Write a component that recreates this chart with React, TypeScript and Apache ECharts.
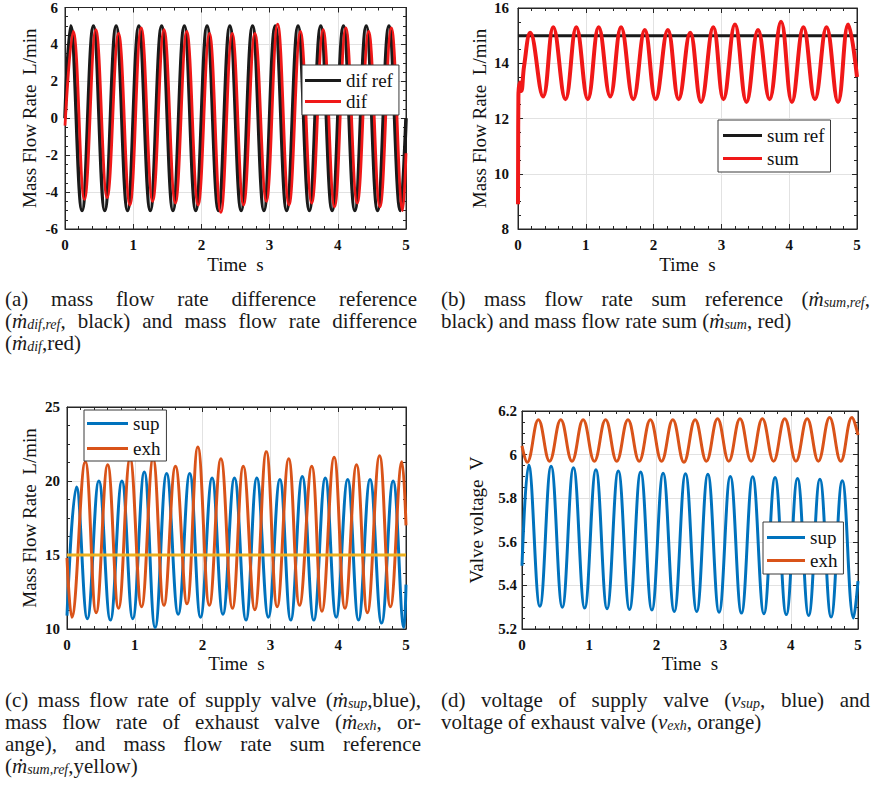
import React, { useEffect, useRef } from 'react';
import * as echarts from 'echarts';

const SERIF = '"Liberation Serif", "Times New Roman", Times, serif';

// ---------------- (a) mass flow rate difference ----------------
const difRefT = [0, 0.083, 0.25, 0.417, 0.583, 0.75, 0.917, 1.083, 1.25, 1.417, 1.583, 1.75, 1.917, 2.083, 2.25, 2.417, 2.583, 2.75, 2.917, 3.083, 3.25, 3.417, 3.583, 3.75, 3.917, 4.083, 4.25, 4.417, 4.583, 4.75, 4.917, 5];
const difRefV = [0, 5, -5, 5, -5, 5, -5, 5, -5, 5, -5, 5, -5, 5, -5, 5, -5, 5, -5, 5, -5, 5, -5, 5, -5, 5, -5, 5, -5, 5, -5, 0];
const difEdgeT = [0, 5];
const difEdgeV = [-0.4, -1.9];
const difPeakT = [0.12, 0.452, 0.785, 1.118, 1.452, 1.785, 2.118, 2.452, 2.785, 3.118, 3.452, 3.785, 4.118, 4.452, 4.785];
const difPeakV = [4.7, 4.8, 4.6, 4.9, 4.8, 4.7, 4.6, 4.6, 4.6, 5.1, 4.7, 4.8, 4.9, 4.7, 4.9];
const difTroughT = [0.285, 0.618, 0.952, 1.285, 1.618, 1.952, 2.285, 2.618, 2.952, 3.285, 3.618, 3.952, 4.285, 4.618, 4.952];
const difTroughV = [-4.4, -4.3, -4.7, -4.5, -4.6, -4.7, -5.1, -4.7, -4.5, -4.7, -4.6, -4.8, -4.6, -4.8, -5.0];

// ---------------- (b) mass flow rate sum ----------------
const sumRefT = [0, 5];
const sumRefV = [15, 15];
const sumStartT = [0, 0.006, 0.03, 0.05, 0.09];
const sumStartV = [8.9, 12.8, 13.3, 13.0, 13.9];
const sumPeakT = [0.18, 0.52, 0.86, 1.19, 1.52, 1.87, 2.21, 2.54, 2.88, 3.2, 3.54, 3.88, 4.21, 4.55, 4.87];
const sumPeakV = [15.1, 15.3, 15.3, 15.3, 15.3, 15.2, 15.2, 15.1, 15.3, 15.4, 15.2, 15.5, 15.3, 15.3, 15.4];
const sumTroughT = [0.37, 0.7, 1.03, 1.36, 1.7, 2.03, 2.37, 2.7, 3.03, 3.37, 3.71, 4.04, 4.38, 4.72];
const sumTroughV = [12.8, 12.7, 12.7, 12.8, 12.7, 12.7, 12.7, 12.6, 12.7, 12.6, 12.7, 12.6, 12.7, 12.6];
const sumEndT = [5];
const sumEndV = [13.5];

// ---------------- (c) valve mass flow rates ----------------
const supEdgeT = [0, 5];
const supEdgeV = [10.9, 13.0];
const supPeakT = [0.14, 0.47, 0.81, 1.14, 1.47, 1.81, 2.14, 2.47, 2.8, 3.14, 3.47, 3.81, 4.14, 4.47, 4.81];
const supPeakV = [19.6, 20.0, 20.0, 20.6, 20.5, 20.5, 20.2, 20.2, 20.2, 20.1, 20.3, 20.2, 20.1, 20.1, 20.0];
const supTroughT = [0.3, 0.64, 0.97, 1.3, 1.64, 1.97, 2.3, 2.64, 2.97, 3.3, 3.64, 3.97, 4.3, 4.64, 4.97];
const supTroughV = [10.7, 10.6, 10.7, 10.1, 11.0, 10.8, 11.0, 10.6, 10.8, 10.6, 10.6, 10.8, 10.6, 10.4, 10.1];
const exhEdgeT = [0, 5];
const exhEdgeV = [14.8, 17.0];
const exhTroughT = [0.07, 0.43, 0.76, 1.1, 1.43, 1.77, 2.1, 2.44, 2.77, 3.1, 3.43, 3.76, 4.1, 4.43, 4.77];
const exhTroughV = [10.8, 11.1, 11.4, 11.5, 11.6, 11.7, 11.6, 11.4, 11.3, 11.5, 11.6, 11.2, 11.4, 11.1, 11.5];
const exhPeakT = [0.27, 0.6, 0.93, 1.27, 1.6, 1.93, 2.27, 2.6, 2.94, 3.27, 3.61, 3.94, 4.27, 4.61, 4.94];
const exhPeakV = [21.3, 21.1, 21.5, 21.5, 21.0, 22.3, 21.5, 21.0, 22.0, 21.5, 21.0, 21.6, 21.1, 21.7, 21.3];
const refYellowT = [0, 5];
const refYellowV = [15, 15];

// ---------------- (d) valve voltages ----------------
const vSupEdgeT = [0, 5];
const vSupEdgeV = [5.49, 5.42];
const vSupPeakT = [0.099, 0.433, 0.766, 1.1, 1.433, 1.766, 2.1, 2.433, 2.766, 3.1, 3.433, 3.766, 4.1, 4.433, 4.766];
const vSupPeakV = [5.952, 5.947, 5.94, 5.93, 5.925, 5.92, 5.915, 5.912, 5.91, 5.9, 5.898, 5.895, 5.89, 5.887, 5.88];
const vSupTroughT = [0.266, 0.6, 0.933, 1.266, 1.6, 1.933, 2.266, 2.6, 2.933, 3.266, 3.6, 3.933, 4.266, 4.6, 4.933];
const vSupTroughV = [5.304, 5.3, 5.296, 5.293, 5.29, 5.287, 5.28, 5.28, 5.277, 5.273, 5.27, 5.266, 5.262, 5.255, 5.25];
const vExhEdgeT = [0, 5];
const vExhEdgeV = [6.04, 6.09];
const vExhTroughT = [0.077, 0.41, 0.744, 1.077, 1.41, 1.744, 2.077, 2.41, 2.744, 3.077, 3.41, 3.744, 4.077, 4.41, 4.744];
const vExhTroughV = [5.965, 5.97, 5.97, 5.97, 5.97, 5.97, 5.97, 5.965, 5.97, 5.97, 5.97, 5.97, 5.97, 5.97, 5.97];
const vExhPeakT = [0.244, 0.577, 0.91, 1.244, 1.577, 1.91, 2.244, 2.577, 2.91, 3.244, 3.577, 3.91, 4.244, 4.577, 4.91];
const vExhPeakV = [6.16, 6.16, 6.16, 6.16, 6.16, 6.16, 6.16, 6.16, 6.165, 6.165, 6.165, 6.165, 6.165, 6.17, 6.17];

// ---------------- axes ----------------
const xTickMin = 0;
const xTickMax = 5;
const xTickStep = 1;
const yMins = [-6, 8, 10, 5.2];
const yMaxs = [6, 16, 25, 6.2];
const ySteps = [2, 2, 5, 0.2];
const xTitle = 'Time  s';
const yTitles = ['Mass Flow Rate  L/min', 'Mass Flow Rate  L/min', 'Mass Flow Rate  L/min', 'Valve voltage  V'];

// ---------------- captions ----------------
const captionA = [
  '(a) mass flow rate difference reference',
  '(ṁ_{dif,ref}, black) and mass flow rate difference',
  '(ṁ_{dif},red)',
];
const captionB = [
  '(b) mass flow rate sum reference (ṁ_{sum,ref},',
  'black) and mass flow rate sum (ṁ_{sum}, red)',
];
const captionC = [
  '(c) mass flow rate of supply valve (ṁ_{sup},blue),',
  'mass flow rate of exhaust valve (ṁ_{exh}, or-',
  'ange), and mass flow rate sum reference',
  '(ṁ_{sum,ref},yellow)',
];
const captionD = [
  '(d) voltage of supply valve (v_{sup}, blue) and',
  'voltage of exhaust valve (v_{exh}, orange)',
];

type Pt = [number, number];
const wave = (...parts: [number[], number[]][]): Pt[] => {
  const pts: Pt[] = [];
  parts.forEach(([ts, vs]) => ts.forEach((t, i) => pts.push([t, vs[i]])));
  return pts.sort((p, q) => p[0] - q[0]);
};

const C_BLACK = '#1a1a1a';
const C_RED = '#f01818';
const C_BLUE = '#0072BD';
const C_ORANGE = '#D95319';
const C_YELLOW = '#EDB120';
const AX = '#262626';

type Frag = { t: string; k: 'n' | 'i' | 's' };
const parseWord = (w: string): Frag[] => {
  const out: Frag[] = [];
  let buf = '';
  let i = 0;
  while (i < w.length) {
    const ch = w[i];
    if ((ch === 'ṁ' || ch === 'v') && w.slice(i + 1, i + 3) === '_{') {
      if (buf) { out.push({ t: buf, k: 'n' }); buf = ''; }
      out.push({ t: ch, k: 'i' });
      const close = w.indexOf('}', i + 3);
      out.push({ t: w.slice(i + 3, close), k: 's' });
      i = close + 1;
    } else {
      buf += ch;
      i++;
    }
  }
  if (buf) out.push({ t: buf, k: 'n' });
  return out;
};

export default function App() {
  const ref = useRef<HTMLDivElement>(null);

  useEffect(() => {
    if (!ref.current) return;
    const chart = echarts.init(ref.current, null, { renderer: 'svg', width: 874, height: 792 });

    const grids = [
      { left: 65, top: 7, width: 341, height: 222 },
      { left: 518, top: 8, width: 339, height: 221 },
      { left: 67, top: 407, width: 339, height: 222 },
      { left: 522, top: 411, width: 336, height: 218 },
    ];
    const yNameGaps = [26, 29, 28, 36];
    const yLabelMargins = [7, 9, 7, 5];
    const xNameGaps = [26, 26, 25, 25];

    const tickStyle = { lineStyle: { color: AX, width: 1 } };
    const xAxes: any[] = [];
    const yAxes: any[] = [];
    grids.forEach((_, i) => {
      xAxes.push({
        type: 'value', gridIndex: i, min: xTickMin, max: xTickMax, interval: xTickStep, position: 'bottom',
        axisLine: { show: true, onZero: false, lineStyle: { color: AX, width: 1 } },
        axisTick: { show: true, inside: true, length: 5, ...tickStyle },
        minorTick: { show: true, splitNumber: 5, length: 3, ...tickStyle },
        axisLabel: { color: '#111', fontFamily: SERIF, fontSize: 15, fontWeight: 'bold', margin: 8 },
        splitLine: { show: true, lineStyle: { color: '#e2e2e2', width: 1 } },
        name: xTitle, nameLocation: 'middle', nameGap: xNameGaps[i],
        nameTextStyle: { color: '#111', fontFamily: SERIF, fontSize: 19 },
      });
    });
    grids.forEach((_, i) => {
      xAxes.push({
        type: 'value', gridIndex: i, min: xTickMin, max: xTickMax, interval: xTickStep, position: 'top',
        axisLine: { show: true, onZero: false, lineStyle: { color: AX, width: 1 } },
        axisTick: { show: true, inside: true, length: 5, ...tickStyle },
        minorTick: { show: true, splitNumber: 5, length: 3, ...tickStyle },
        axisLabel: { show: false }, splitLine: { show: false },
      });
    });
    grids.forEach((_, i) => {
      yAxes.push({
        type: 'value', gridIndex: i, min: yMins[i], max: yMaxs[i], interval: ySteps[i], position: 'left',
        axisLine: { show: true, onZero: false, lineStyle: { color: AX, width: 1 } },
        axisTick: { show: true, inside: true, length: 5, ...tickStyle },
        minorTick: { show: true, splitNumber: 4, length: 3, ...tickStyle },
        axisLabel: {
          color: '#111', fontFamily: SERIF, fontSize: 15, fontWeight: 'bold', margin: yLabelMargins[i],
          formatter: (v: number) => String(+v.toFixed(2)),
        },
        splitLine: { show: true, lineStyle: { color: '#e2e2e2', width: 1 } },
        name: yTitles[i], nameLocation: 'middle', nameRotate: 90, nameGap: yNameGaps[i],
        nameTextStyle: { color: '#111', fontFamily: SERIF, fontSize: 19 },
      });
    });
    grids.forEach((_, i) => {
      yAxes.push({
        type: 'value', gridIndex: i, min: yMins[i], max: yMaxs[i], interval: ySteps[i], position: 'right',
        axisLine: { show: true, onZero: false, lineStyle: { color: AX, width: 1 } },
        axisTick: { show: true, inside: true, length: 5, ...tickStyle },
        minorTick: { show: true, splitNumber: 4, length: 3, ...tickStyle },
        axisLabel: { show: false }, splitLine: { show: false },
      });
    });

    const line = (name: string, data: Pt[], color: string, width: number, idx: number, z = 2) => ({
      type: 'line', name, data, xAxisIndex: idx, yAxisIndex: idx,
      showSymbol: false, symbol: 'none', smooth: 0.42, clip: true, z,
      lineStyle: { color, width }, itemStyle: { color },
      emphasis: { disabled: true }, silent: true,
    });

    const series = [
      line('dif ref', wave([difRefT, difRefV]), C_BLACK, 3.6, 0),
      line('dif', wave([difEdgeT, difEdgeV], [difPeakT, difPeakV], [difTroughT, difTroughV]), C_RED, 2.8, 0, 3),
      line('sum ref', wave([sumRefT, sumRefV]), C_BLACK, 3, 1),
      line('sum', wave([sumStartT, sumStartV], [sumPeakT, sumPeakV], [sumTroughT, sumTroughV], [sumEndT, sumEndV]), C_RED, 4, 1, 3),
      line('sup', wave([supEdgeT, supEdgeV], [supPeakT, supPeakV], [supTroughT, supTroughV]), C_BLUE, 3, 2),
      line('exh', wave([exhEdgeT, exhEdgeV], [exhPeakT, exhPeakV], [exhTroughT, exhTroughV]), C_ORANGE, 3, 2, 3),
      line('ref', wave([refYellowT, refYellowV]), C_YELLOW, 3, 2, 4),
      line('sup', wave([vSupEdgeT, vSupEdgeV], [vSupPeakT, vSupPeakV], [vSupTroughT, vSupTroughV]), C_BLUE, 3, 3),
      line('exh', wave([vExhEdgeT, vExhEdgeV], [vExhPeakT, vExhPeakV], [vExhTroughT, vExhTroughV]), C_ORANGE, 3, 3, 3),
    ];

    const legendBase = {
      orient: 'vertical', icon: 'rect', itemHeight: 3, backgroundColor: '#fff', borderColor: '#3a3a3a', borderWidth: 1,
      borderRadius: 0, selectedMode: false, z: 10,
      textStyle: { fontFamily: SERIF, fontSize: 19, color: '#111', lineHeight: 18 },
    };
    const legends = [
      { data: ['dif ref', 'dif'], left: 302, top: 65, padding: [6, 6, 4, 3], itemGap: 2, itemWidth: 36 },
      { data: ['sum ref', 'sum'], left: 718, top: 120, padding: [6, 6, 4, 5], itemGap: 4, itemWidth: 39 },
      { data: ['sup', 'exh'], left: 84, top: 410, padding: [4, 6, 3, 3], itemGap: 6, itemWidth: 41 },
      { data: ['sup', 'exh'], left: 763, top: 522, padding: [6, 6, 4, 4], itemGap: 4, itemWidth: 38 },
    ].map((l) => ({ ...legendBase, ...l }));

    // captions (justified like the paper); each word is one rich-text element
    const CAP = 21;
    const SUB = 14;
    const LINE_H = 22;
    const ctx = document.createElement('canvas').getContext('2d') as CanvasRenderingContext2D;
    const fontOf = (k: Frag['k']) =>
      k === 'n' ? `${CAP}px ${SERIF}` : k === 'i' ? `italic ${CAP}px ${SERIF}` : `italic ${SUB}px ${SERIF}`;
    const measure = (t: string, k: Frag['k']) => { ctx.font = fontOf(k); return ctx.measureText(t).width; };
    const rich = {
      n: { fontFamily: SERIF, fontSize: CAP, fontStyle: 'normal', lineHeight: CAP, verticalAlign: 'middle', fill: '#1a1a1a', color: '#1a1a1a' },
      i: { fontFamily: SERIF, fontSize: CAP, fontStyle: 'italic', lineHeight: CAP, verticalAlign: 'middle', fill: '#1a1a1a', color: '#1a1a1a' },
      s: { fontFamily: SERIF, fontSize: SUB, fontStyle: 'italic', lineHeight: 4, verticalAlign: 'bottom', fill: '#1a1a1a', color: '#1a1a1a' },
    };

    const blocks = [
      { x: 5, w: 412, y0: 299, lines: captionA, justify: [true, true, false] },
      { x: 441, w: 429, y0: 299, lines: captionB, justify: [true, false] },
      { x: 5, w: 416, y0: 700, lines: captionC, justify: [true, true, true, false] },
      { x: 441, w: 429, y0: 700, lines: captionD, justify: [true, false] },
    ];
    const graphics: any[] = [];
    blocks.forEach((b) => {
      b.lines.forEach((ln, li) => {
        const words = ln.split(' ').map(parseWord);
        const widths = words.map((ws) => ws.reduce((s, f) => s + measure(f.t, f.k), 0));
        const total = widths.reduce((a, c) => a + c, 0);
        const space = measure(' ', 'n');
        let gap = space;
        let scale = 1;
        if (b.justify[li] && words.length > 1) {
          gap = (b.w - total) / (words.length - 1);
          if (gap < space * 0.6) {
            gap = space * 0.6;
            scale = b.w / (total + gap * (words.length - 1));
          }
        }
        const children: any[] = [];
        let x = 0;
        words.forEach((ws, wi) => {
          const text = ws.map((f) => `{${f.k}|${f.t}}`).join('');
          children.push({
            type: 'text', x, y: 0, silent: true,
            style: {
              text, rich, fill: '#1a1a1a', fontFamily: SERIF, fontSize: CAP,
              textAlign: 'left', align: 'left', textVerticalAlign: 'middle', verticalAlign: 'middle',
            },
          });
          x += widths[wi] + gap;
        });
        graphics.push({ type: 'group', x: b.x, y: b.y0 + li * LINE_H, scaleX: scale, children });
      });
    });

    chart.setOption({
      animation: false,
      backgroundColor: '#ffffff',
      grid: grids.map((g) => ({ ...g, show: true, borderColor: AX, borderWidth: 1, backgroundColor: '#fff', containLabel: false })),
      xAxis: xAxes,
      yAxis: yAxes,
      legend: legends,
      series,
      graphic: { elements: graphics },
    });

    return () => chart.dispose();
  }, []);

  return <div ref={ref} style={{ position: 'absolute', left: 0, top: 0, width: 874, height: 792 }} />;
}
